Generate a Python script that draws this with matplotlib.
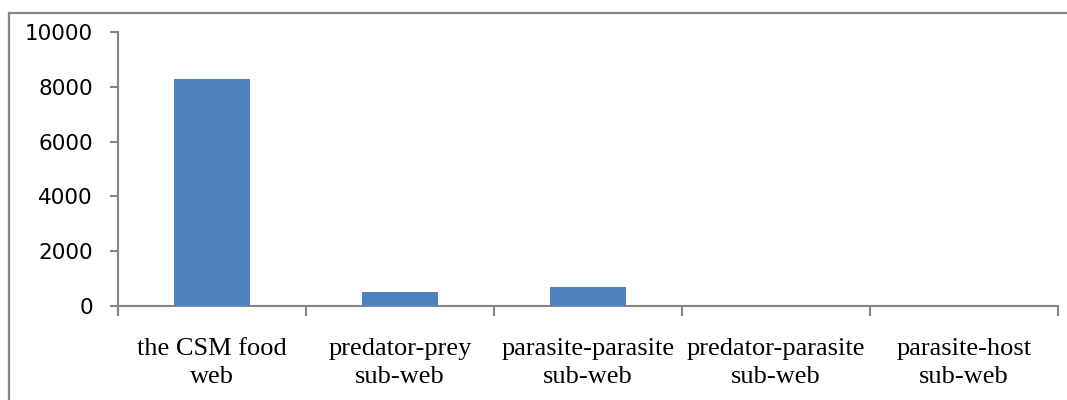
import matplotlib
matplotlib.use("Agg")
import matplotlib.pyplot as plt
from matplotlib.lines import Line2D
import numpy as np

categories = [
    "the CSM food\nweb",
    "predator-prey\nsub-web",
    "parasite-parasite\nsub-web",
    "predator-parasite\nsub-web",
    "parasite-host\nsub-web",
]
values = [8285, 500, 680, 0, 0]
y_ticks = [0, 2000, 4000, 6000, 8000, 10000]

BAR = "#4F81BD"
GREY = "#868686"

fig = plt.figure(figsize=(10.67, 4.0), dpi=100)
ax = fig.add_axes([118 / 1067, 1 - 306 / 400, (1058 - 118) / 1067, (306 - 32) / 400])

x = np.arange(len(categories))
ax.bar(x, values, width=0.4, color=BAR, zorder=3)

ax.set_xlim(-0.5, len(categories) - 0.5)
ax.set_ylim(0, 10000)
ax.set_yticks(y_ticks)
ax.set_yticklabels([str(v) for v in y_ticks], fontsize=15.5, family="DejaVu Sans")

# category boundary ticks (major) + centred labels (minor)
ax.set_xticks(np.arange(-0.5, len(categories), 1.0))
ax.set_xticklabels([])
ax.set_xticks(x, minor=True)
ax.set_xticklabels(categories, minor=True, fontsize=19, family="Liberation Serif",
                   linespacing=1.35)
ax.tick_params(axis="x", which="minor", length=0, pad=23)
ax.tick_params(axis="x", which="major", length=7, width=1.5, color=GREY, direction="out")
ax.tick_params(axis="y", length=6, width=1.5, color=GREY, direction="out", pad=12)

for side in ("top", "right"):
    ax.spines[side].set_visible(False)
for side in ("left", "bottom"):
    ax.spines[side].set_color(GREY)
    ax.spines[side].set_linewidth(1.5)

# outer chart frame (clipped by the image edge on the right/bottom)
fig.add_artist(Line2D([8.5 / 1067, 1.0], [1 - 12.5 / 400] * 2, color=GREY, lw=1.6,
                      transform=fig.transFigure))
fig.add_artist(Line2D([8.5 / 1067] * 2, [0.0, 1 - 12.5 / 400], color=GREY, lw=1.6,
                      transform=fig.transFigure))

fig.savefig("out.png", dpi=100)
